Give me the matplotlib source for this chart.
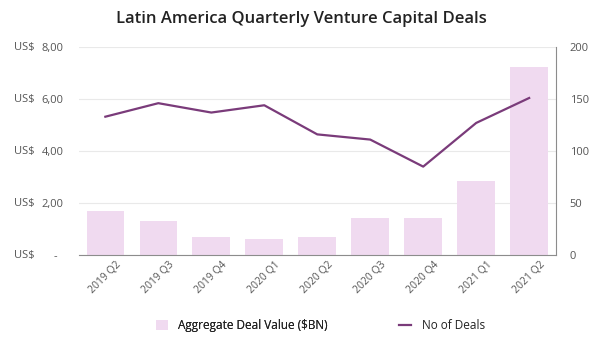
import matplotlib

matplotlib.use("Agg")
import matplotlib.pyplot as plt

plt.rcParams["font.family"] = ["Open Sans", "DejaVu Sans"]

QUARTERS = ["2019 Q2", "2019 Q3", "2019 Q4", "2020 Q1", "2020 Q2",
            "2020 Q3", "2020 Q4", "2021 Q1", "2021 Q2"]
DEAL_VALUE_BN = [1.70, 1.30, 0.69, 0.62, 0.69, 1.43, 1.41, 2.84, 7.22]
NUM_DEALS = [133, 146, 137, 144, 116, 111, 85, 127, 151]

LEFT_TICKS = [0, 2, 4, 6, 8]
LEFT_LABELS = ["-  ", "2,00", "4,00", "6,00", "8,00"]
RIGHT_TICKS = [0, 50, 100, 150, 200]

BAR_COLOUR = "#f0daf0"
LINE_COLOUR = "#7a3b7a"
TEXT_COLOUR = "#555555"
GRID_COLOUR = "#e9e9e9"

fig = plt.figure(figsize=(6.02, 3.51), dpi=100)
ax = fig.add_axes([0.131, 0.2735, 0.792, 0.5925])
ax2 = ax.twinx()

x = range(len(QUARTERS))
bars = ax.bar(x, DEAL_VALUE_BN, width=0.71, color=BAR_COLOUR, zorder=2,
              label="Aggregate Deal Value ($BN)")
line, = ax2.plot(x, NUM_DEALS, color=LINE_COLOUR, linewidth=1.6,
                 label="No of Deals")

ax.set_xlim(-0.5, len(QUARTERS) - 0.5)
ax.set_ylim(0, 8)
ax2.set_ylim(0, 200)

ax.set_yticks(LEFT_TICKS)
ax.set_yticklabels(LEFT_LABELS)
ax2.set_yticks(RIGHT_TICKS)
ax.grid(axis="y", color=GRID_COLOUR, linewidth=0.8, zorder=0)
ax.set_axisbelow(True)

ax.set_xticks(list(x))
ax.set_xticklabels(QUARTERS, rotation=45, ha="center", va="top")

for a in (ax, ax2):
    for side in ("top", "left"):
        a.spines[side].set_visible(False)
    a.spines["bottom"].set_color("#8c8c8c")
    a.spines["right"].set_color("#8c8c8c")
    a.tick_params(length=0, labelsize=8, colors=TEXT_COLOUR)
ax2.spines["bottom"].set_visible(False)
ax.spines["right"].set_visible(False)
ax.tick_params(axis="y", pad=11)
ax2.tick_params(axis="y", pad=10)
ax.tick_params(axis="x", pad=3, labelsize=7.5)

# accounting-style currency prefix at the far left of each value tick
for t in LEFT_TICKS:
    ax.annotate("US$", xy=(0.023, t), xycoords=("figure fraction", "data"),
                va="center", ha="left", fontsize=8, color=TEXT_COLOUR)

fig.suptitle("Latin America Quarterly Venture Capital Deals", x=0.5, y=0.97,
             fontsize=12, fontweight="semibold", color="#222222")

# two separate legend entries, spread out like the source
common = dict(loc="center left", frameon=False, fontsize=8.5, handlelength=1.0,
              handleheight=1.0, handletextpad=0.9, labelcolor="#222222",
              borderaxespad=0, borderpad=0)
fig.add_artist(fig.legend(handles=[bars], bbox_to_anchor=(0.259, 0.072), **common))
fig.legend(handles=[line], bbox_to_anchor=(0.663, 0.072), **common)

fig.savefig("out.png", dpi=100, facecolor="white")
